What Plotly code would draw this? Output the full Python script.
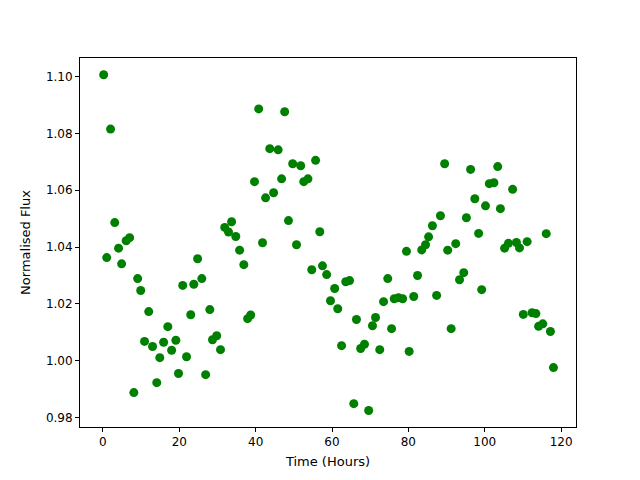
import plotly.graph_objects as go

time_hours = [0.2, 1.0, 2.0, 3.1, 4.1, 4.9, 6.1, 7.0, 8.1, 9.1,
              9.9, 10.9, 12.0, 13.0, 14.1, 14.9, 15.9, 17.0, 18.0, 19.1,
              19.8, 20.9, 21.9, 23.0, 23.8, 24.8, 25.9, 26.9, 28.0, 28.7,
              29.8, 30.8, 31.9, 32.9, 33.7, 34.8, 35.8, 36.9, 37.9, 38.7,
              39.7, 40.8, 41.8, 42.6, 43.7, 44.7, 45.9, 46.8, 47.6, 48.6,
              49.7, 50.7, 51.8, 52.6, 53.7, 54.7, 55.7, 56.8, 57.5, 58.6,
              59.6, 60.7, 61.5, 62.5, 63.6, 64.6, 65.7, 66.4, 67.5, 68.5,
              69.6, 70.6, 71.4, 72.5, 73.5, 74.6, 75.6, 76.3, 77.4, 78.5,
              79.5, 80.2, 81.4, 82.4, 83.5, 84.5, 85.3, 86.3, 87.4, 88.4,
              89.5, 90.3, 91.2, 92.4, 93.4, 94.5, 95.2, 96.3, 97.4, 98.4,
              99.2, 100.2, 101.2, 102.4, 103.4, 104.1, 105.2, 106.2, 107.3, 108.3,
              109.1, 110.1, 111.1, 112.4, 113.4, 114.1, 115.2, 116.1, 117.2, 118.0]

norm_flux = [1.1006, 1.0363, 1.0815, 1.0486, 1.0396, 1.0341, 1.0422, 1.0433, 0.9888, 1.0289,
             1.0247, 1.0068, 1.0173, 1.0050, 0.9923, 1.0011, 1.0065, 1.0120, 1.0037, 1.0072,
             0.9955, 1.0265, 1.0014, 1.0162, 1.0269, 1.0359, 1.0289, 0.9951, 1.0180, 1.0074,
             1.0088, 1.0039, 1.0469, 1.0453, 1.0489, 1.0437, 1.0389, 1.0338, 1.0148, 1.0161,
             1.0630, 1.0886, 1.0415, 1.0573, 1.0746, 1.0591, 1.0742, 1.0640, 1.0876, 1.0493,
             1.0693, 1.0408, 1.0686, 1.0630, 1.0640, 1.0320, 1.0705, 1.0454, 1.0334, 1.0303,
             1.0211, 1.0254, 1.0183, 1.0053, 1.0278, 1.0282, 0.9849, 1.0145, 1.0043, 1.0058,
             0.9825, 1.0123, 1.0152, 1.0039, 1.0208, 1.0289, 1.0113, 1.0218, 1.0222, 1.0218,
             1.0385, 1.0033, 1.0226, 1.0300, 1.0390, 1.0408, 1.0436, 1.0475, 1.0230, 1.0510,
             1.0693, 1.0389, 1.0113, 1.0412, 1.0285, 1.0310, 1.0503, 1.0673, 1.0570, 1.0448,
             1.0250, 1.0545, 1.0623, 1.0626, 1.0683, 1.0535, 1.0396, 1.0413, 1.0603, 1.0416,
             1.0397, 1.0163, 1.0419, 1.0169, 1.0166, 1.0121, 1.0130, 1.0447, 1.0103, 0.9976]

x_ticks = [0, 20, 40, 60, 80, 100, 120]
y_ticks = [0.98, 1.00, 1.02, 1.04, 1.06, 1.08, 1.10]

fig = go.Figure(go.Scatter(
    x=time_hours, y=norm_flux, mode="markers",
    marker=dict(color="#008000", size=9, line=dict(width=0)),
))

axis_common = dict(
    showline=True, linecolor="black", linewidth=1, mirror=True,
    ticks="outside", ticklen=4, tickwidth=1, tickcolor="black",
    showgrid=False, zeroline=False,
    tickfont=dict(family="DejaVu Sans", size=12, color="black"),
)

fig.update_layout(
    width=640, height=480,
    margin=dict(l=72, r=72, t=50, b=61),
    paper_bgcolor="white", plot_bgcolor="white",
    showlegend=False,
    font=dict(family="DejaVu Sans", size=12, color="black"),
    xaxis=dict(range=[-6.0, 123.9], tickvals=x_ticks,
               title=dict(text="Time (Hours)", font=dict(size=13), standoff=8),
               **axis_common),
    yaxis=dict(range=[0.9767, 1.1065], tickvals=y_ticks, tickformat=".2f",
               title=dict(text="Normalised Flux", font=dict(size=13), standoff=12),
               **axis_common),
)

fig.write_html("out.html")
